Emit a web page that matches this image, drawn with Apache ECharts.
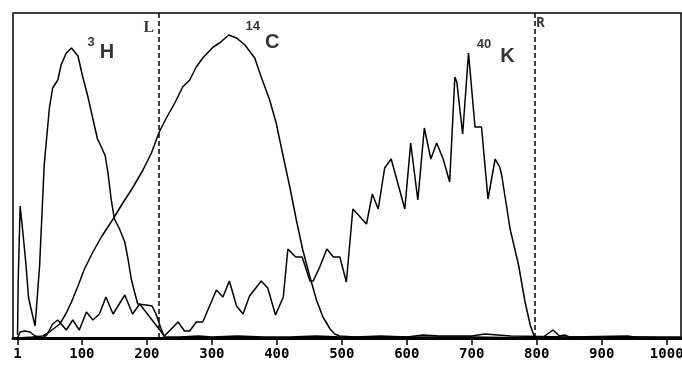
<!DOCTYPE html>
<html>
<head>
<meta charset="utf-8">
<script src="https://cdn.jsdelivr.net/npm/echarts@6/dist/echarts.min.js"></script>
<style>
html, body { margin: 0; padding: 0; background: #fff; }
#chart { width: 682px; height: 371px; }
</style>
</head>
<body>
<div id="chart"></div>
<script>
// channel ticks on the x axis
var channelTicks = [1, 100, 200, 300, 400, 500, 600, 700, 800, 900, 1000];

// 3H spectrum (channel, counts)
var h3X = [1, 2, 5, 9, 14, 18, 24, 28, 35, 42, 50, 55, 63, 68, 76, 84, 94, 101, 109, 117, 124, 130, 136, 140, 145, 150, 158, 166, 171, 176, 181, 186, 199, 208, 214, 222, 227, 250, 280, 300, 340, 380, 420, 460, 500, 600, 700, 800, 1022];
var h3Y = [3, 57, 132, 107, 73, 40, 23, 12, 73, 173, 230, 250, 258, 273, 285, 290, 282, 262, 242, 219, 199, 191, 182, 166, 139, 119, 109, 96, 79, 59, 46, 34, 33, 32, 24, 9, 1, 1, 2, 1, 2, 1, 1, 2, 1, 1, 1, 0, 0];

// 14C spectrum
var c14X = [1, 24, 40, 50, 58, 66, 76, 84, 94, 104, 117, 130, 148, 163, 178, 194, 207, 219, 230, 243, 255, 266, 276, 286, 302, 312, 326, 338, 351, 366, 376, 389, 399, 410, 420, 430, 440, 451, 461, 471, 482, 489, 497, 520, 560, 600, 625, 650, 700, 720, 760, 850, 950, 1022];
var c14Y = [0, 1, 2, 6, 10, 14, 25, 36, 52, 69, 86, 101, 119, 135, 150, 168, 185, 206, 220, 235, 251, 258, 271, 280, 291, 295, 303, 300, 293, 280, 261, 238, 215, 181, 151, 118, 88, 61, 38, 21, 9, 4, 2, 1, 2, 1, 3, 2, 2, 4, 2, 1, 1, 0];

// 40K spectrum
var k40X = [1, 5, 12, 20, 28, 40, 46, 55, 63, 76, 86, 96, 107, 117, 127, 137, 148, 166, 178, 189, 227, 248, 258, 266, 276, 286, 307, 317, 327, 338, 348, 358, 376, 386, 398, 410, 417, 429, 439, 451, 456, 466, 477, 487, 497, 507, 517, 538, 547, 556, 566, 576, 597, 606, 617, 627, 637, 646, 656, 666, 674, 677, 686, 695, 705, 715, 725, 736, 743, 746, 759, 772, 782, 790, 797, 810, 825, 835, 843, 850, 940, 950, 1022];
var k40Y = [0, 6, 7, 6, 2, 0, 3, 14, 18, 8, 18, 8, 26, 18, 24, 41, 24, 43, 24, 34, 2, 16, 7, 7, 16, 16, 48, 41, 57, 32, 24, 42, 57, 50, 23, 41, 89, 81, 81, 57, 57, 71, 89, 81, 81, 56, 129, 114, 144, 129, 170, 179, 129, 195, 138, 210, 179, 195, 179, 156, 261, 256, 204, 285, 211, 211, 139, 179, 171, 163, 109, 73, 36, 13, 0, 1, 8, 2, 3, 1, 2, 1, 1];

// counting windows
var windowNames = ['L', 'R'];
var windowChannels = [218, 797];

function pairs(xs, ys) {
    return xs.map(function (x, i) { return [x, ys[i]]; });
}

function supStyle(padRight, padBottom) {
    return {
        fontSize: 13, height: 13, fontWeight: 'bold', fontFamily: 'Liberation Sans',
        verticalAlign: 'bottom', padding: [0, padRight, padBottom, 0]
    };
}

var curveStyle = { color: '#000', width: 1.5 };

var myChart = echarts.init(document.getElementById('chart'));

myChart.setOption({
    animation: false,
    grid: {
        left: 13,
        right: 1,
        top: 13,
        bottom: 33,
        outerBoundsMode: 'none',
        containLabel: false,
        show: true,
        borderColor: '#000',
        borderWidth: 1.5
    },
    xAxis: {
        type: 'value',
        min: -6,
        max: 1022,
        splitLine: { show: false },
        axisLine: { lineStyle: { color: '#000', width: 3 } },
        axisTick: {
            customValues: channelTicks,
            length: 7,
            lineStyle: { color: '#000', width: 1.5 }
        },
        axisLabel: {
            customValues: channelTicks,
            margin: 9,
            color: '#000',
            fontFamily: 'DejaVu Sans Mono',
            fontWeight: 'bold',
            fontSize: 14,
            formatter: function (v) { return String(v); }
        }
    },
    yAxis: {
        type: 'value',
        min: 0,
        max: 325,
        show: false
    },
    series: [
        {
            name: '3H',
            type: 'line',
            symbol: 'none',
            lineStyle: curveStyle,
            data: pairs(h3X, h3Y),
            markLine: {
                silent: true,
                symbol: 'none',
                label: { show: false },
                lineStyle: { color: '#000', width: 1.5, type: [5, 3] },
                data: windowChannels.map(function (c) { return { xAxis: c }; })
            }
        },
        {
            name: '14C',
            type: 'line',
            symbol: 'none',
            lineStyle: curveStyle,
            data: pairs(c14X, c14Y)
        },
        {
            name: '40K',
            type: 'line',
            symbol: 'none',
            lineStyle: curveStyle,
            data: pairs(k40X, k40Y)
        },
        {
            name: 'labels',
            type: 'scatter',
            silent: true,
            symbolSize: 1,
            itemStyle: { color: 'rgba(0,0,0,0)' },
            label: {
                show: true,
                position: 'right',
                distance: 0,
                color: '#000',
                fontFamily: 'Liberation Sans',
                fontWeight: 'bold',
                formatter: function (p) { return p.data.text; },
                rich: {
                    s1: supStyle(5, 14),
                    s2: supStyle(5, 19),
                    s3: supStyle(9, 15),
                    b: { fontSize: 20, height: 20, fontWeight: 'bold', fontFamily: 'Liberation Sans', verticalAlign: 'bottom' }
                }
            },
            data: [
                { value: [108, 289], text: '{s1|3}{b|H}' },
                { value: [351, 302], text: '{s2|14}{b|C}' },
                { value: [707, 286], text: '{s3|40}{b|K}' },
                {
                    value: [windowChannels[0], 310], text: windowNames[0],
                    label: { position: 'left', distance: 4, fontFamily: 'Liberation Serif', fontSize: 16 }
                },
                {
                    value: [windowChannels[1], 315], text: windowNames[1],
                    label: { position: 'right', distance: 1, fontFamily: 'DejaVu Sans Mono', fontSize: 14 }
                }
            ]
        }
    ]
});
</script>
</body>
</html>
